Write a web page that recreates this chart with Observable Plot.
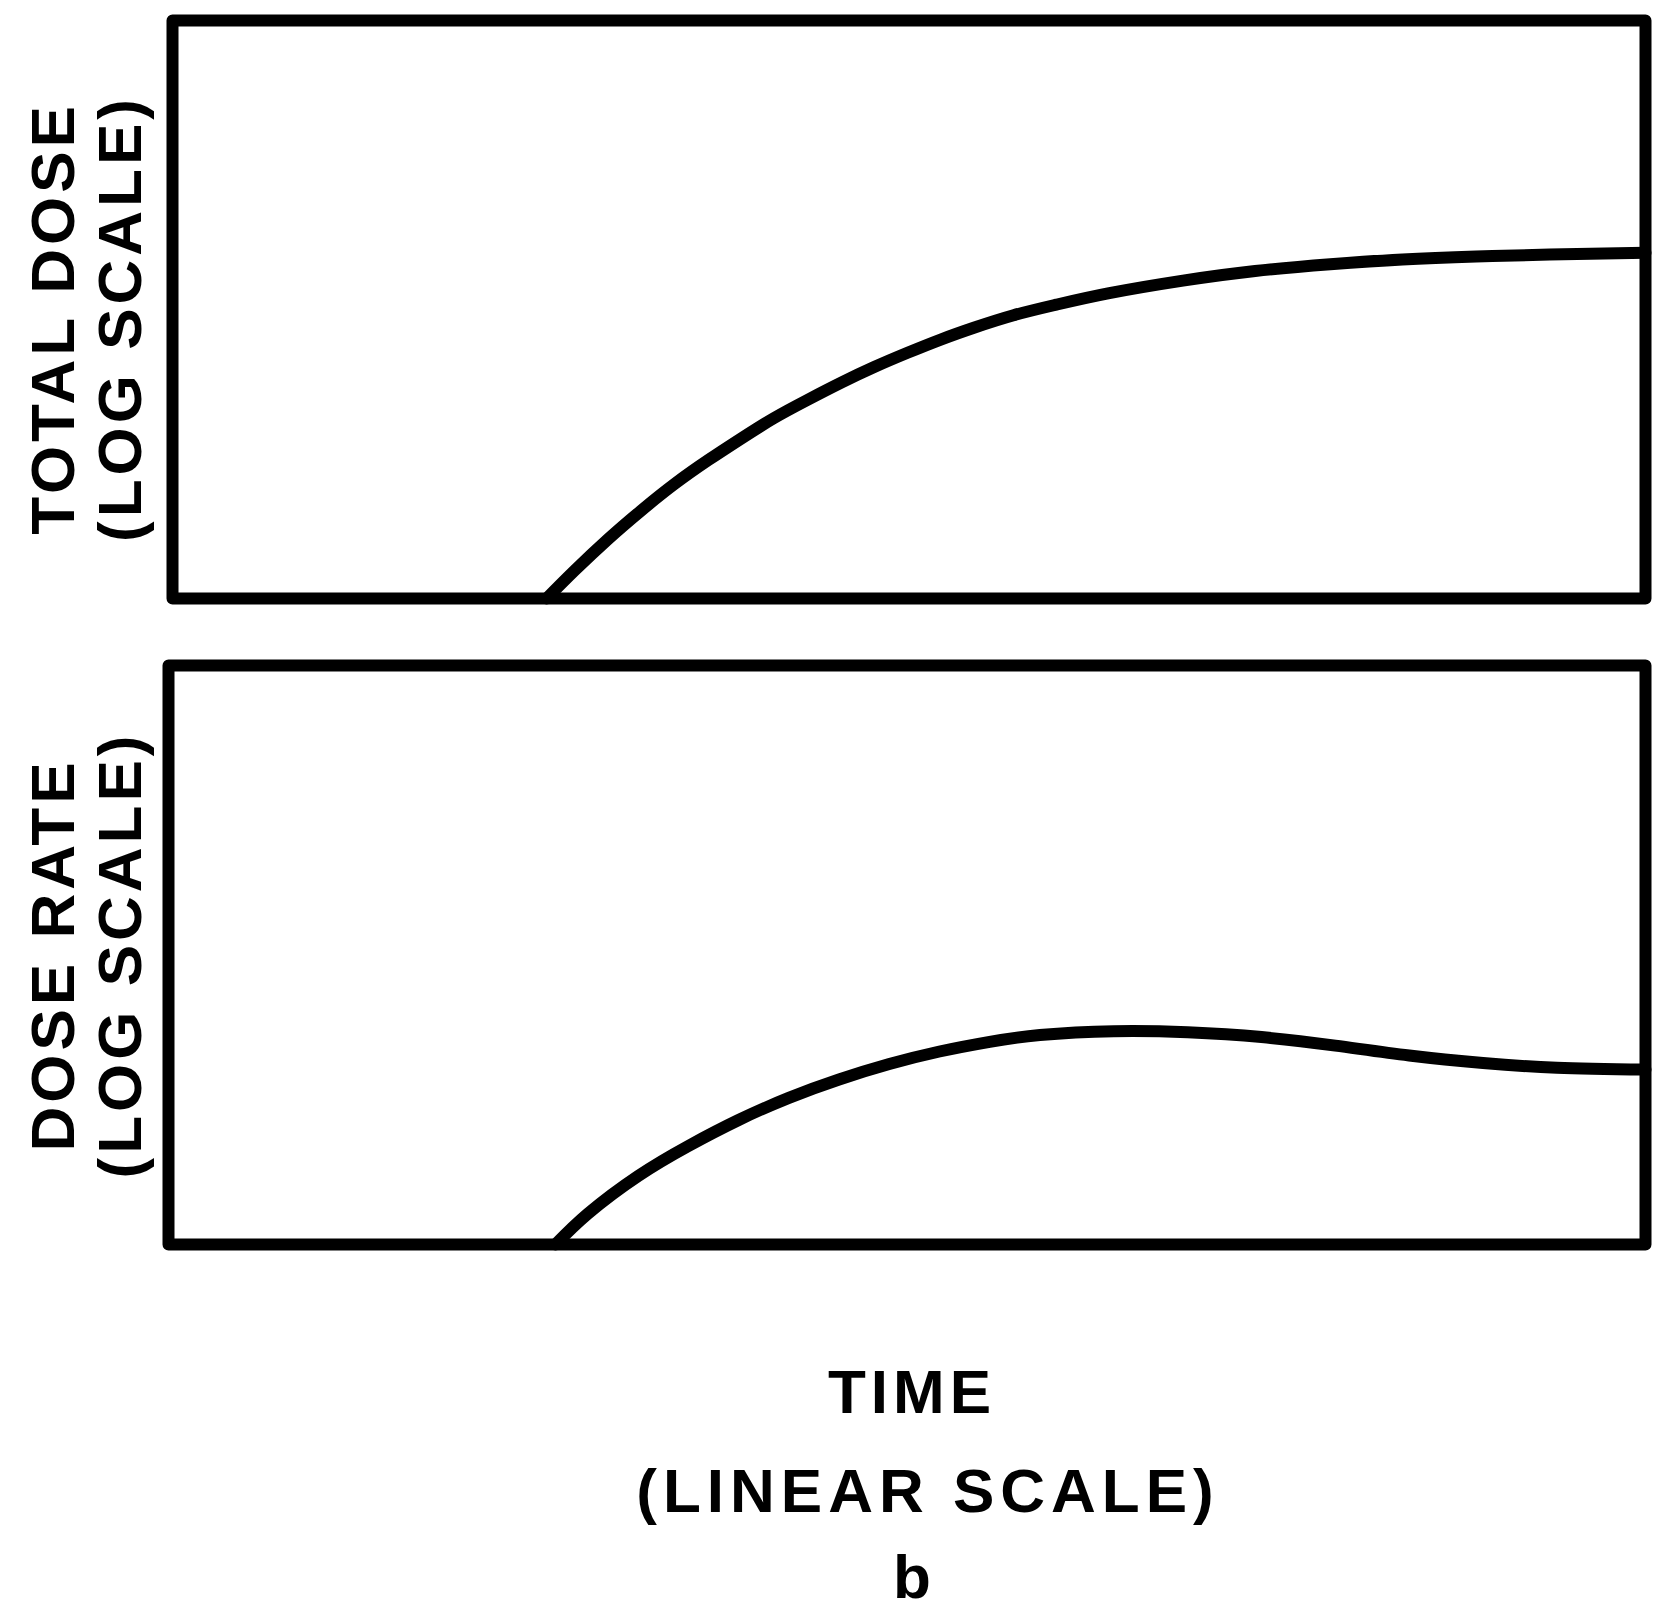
<!DOCTYPE html>
<html>
<head>
<meta charset="utf-8">
<script src="https://cdn.jsdelivr.net/npm/d3@7"></script>
<script src="https://cdn.jsdelivr.net/npm/@observablehq/plot@0.6"></script>
<style>
  body { margin: 0; background: #fff; }
  #page { position: relative; width: 1673px; height: 1613px; font-family: "Liberation Sans", Arial, sans-serif; }
  #total_dose, #dose_rate { position: absolute; left: 0; }
  #total_dose { top: 0; }
  #dose_rate { top: 630px; }
  .xlabel { position: absolute; left: 912px; transform: translateX(-50%); font-size: 62px; line-height: 62px;
            font-weight: bold; letter-spacing: 5px; white-space: nowrap; color: #000; }
  svg text { letter-spacing: 4px; }
</style>
</head>
<body>
<div id="page">
  <div id="total_dose"></div>
  <div id="dose_rate"></div>
  <div class="xlabel" style="top:1361px">TIME</div>
  <div class="xlabel" style="top:1460px;left:928px;letter-spacing:6px">(LINEAR SCALE)</div>
  <div class="xlabel" style="top:1546px;letter-spacing:0">b</div>
</div>
<script>
// time in arbitrary linear units (frame spans 0..10), dose on log scale (1..1e6)
const totalTime = [2.54, 2.73, 2.96, 3.18, 3.41, 3.64, 3.86, 4.08, 4.31, 4.54, 4.76, 4.99,
  5.22, 5.44, 5.71, 6.0, 6.36, 6.86, 7.35, 7.86, 8.35, 8.85, 9.35, 10];
const totalDose = [1, 1.95, 4.17, 8.13, 15.5, 27.5, 45.7, 74.1, 115, 174, 251, 355,
  490, 646, 871, 1122, 1479, 1995, 2512, 2951, 3311, 3548, 3715, 3890];

const rateTime = [2.62, 2.84, 3.18, 3.52, 3.86, 4.20, 4.54, 4.88, 5.22, 5.56, 5.90,
  6.40, 6.90, 7.40, 7.90, 8.40, 8.90, 9.40, 10];
const doseRate = [1, 2.09, 5.13, 10.5, 19.5, 33.1, 51.3, 74.1, 100, 126, 148,
  162, 158, 141, 115, 91, 76, 68, 65];

const timeDomain = [0, 10];
const logDomain = [1, 1e6];

function draw_panel(sel, times, values, label, opts) {
  const rows = times.map((t, i) => ({ time: t, value: values[i] }));
  const plot = Plot.plot({
    width: 1673,
    height: 630,
    marginTop: opts.top,
    marginBottom: opts.bottom,
    marginLeft: opts.left,
    marginRight: 28,
    style: { fontFamily: "Liberation Sans, Arial, sans-serif", background: "white", overflow: "visible" },
    x: { type: "linear", domain: timeDomain, axis: null },
    y: { type: "log", domain: logDomain, axis: null },
    marks: [
      Plot.line(rows, {
        x: "time",
        y: "value",
        curve: "natural",
        stroke: "black",
        strokeWidth: 12,
        strokeLinecap: "round",
      }),
      Plot.frame({ stroke: "black", strokeWidth: 12, strokeLinejoin: "round" }),
      Plot.text([label], {
        frameAnchor: "left",
        textAnchor: "middle",
        rotate: -90,
        dx: opts.dx,
        dy: opts.dy,
        fontSize: 62,
        fontWeight: "bold",
        lineHeight: 1.08,
        fill: "black",
      }),
    ],
  });
  document.querySelector(sel).append(plot);
}

draw_panel("#total_dose", totalTime, totalDose, "TOTAL DOSE\n(LOG SCALE)",
  { top: 20, bottom: 32, left: 172, dx: -86, dy: 9 });
draw_panel("#dose_rate", rateTime, doseRate, "DOSE RATE\n(LOG SCALE)",
  { top: 35, bottom: 16, left: 168, dx: -82, dy: 0 });
</script>
</body>
</html>
